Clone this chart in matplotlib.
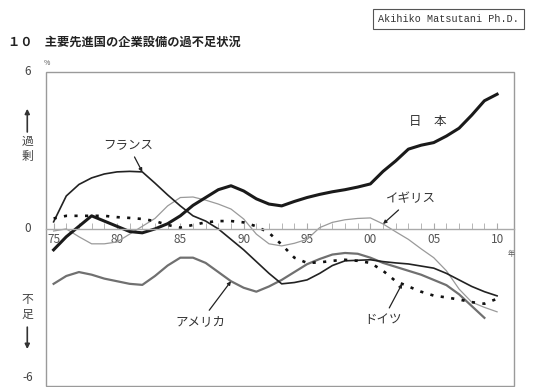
import numpy as np
import matplotlib
matplotlib.use("Agg")
import matplotlib.pyplot as plt
from matplotlib.patches import Rectangle

plt.rcParams["font.family"] = ["Noto Sans CJK JP", "DejaVu Sans"]

years = list(range(1975, 2011))

japan = [-0.8, -0.3, 0.1, 0.5, 0.3, 0.1, -0.1, -0.15, 0.0, 0.2,
         0.5, 0.9, 1.2, 1.5, 1.65, 1.45, 1.15, 0.95, 0.88, 1.05,
         1.2, 1.32, 1.42, 1.5, 1.6, 1.72, 2.2, 2.6, 3.05, 3.2,
         3.3, 3.55, 3.85, 4.35, 4.9, 5.15]
france = [0.27, 1.26, 1.7, 1.95, 2.1, 2.18, 2.2, 2.18, 1.75, 1.3,
          0.88, 0.5, 0.3, 0.0, -0.4, -0.8, -1.25, -1.7, -2.1, -2.05,
          -1.95, -1.7, -1.4, -1.22, -1.2, -1.18, -1.25, -1.3, -1.34, -1.42,
          -1.5, -1.7, -1.95, -2.2, -2.4, -2.56]
usa = [-2.1, -1.8, -1.65, -1.75, -1.9, -2.0, -2.1, -2.14, -1.8, -1.4,
       -1.1, -1.1, -1.3, -1.65, -2.0, -2.25, -2.4, -2.2, -1.95, -1.65,
       -1.35, -1.15, -0.98, -0.92, -0.95, -1.1, -1.3, -1.45, -1.6, -1.75,
       -1.95, -2.15, -2.5, -2.95, -3.4, None]
uk = [-0.08, 0.0, -0.3, -0.57, -0.57, -0.5, -0.2, 0.1, 0.4, 0.88,
      1.2, 1.22, 1.1, 0.95, 0.76, 0.38, -0.2, -0.57, -0.65, -0.55,
      -0.4, 0.05, 0.25, 0.35, 0.4, 0.42, 0.19, -0.11, -0.4, -0.76,
      -1.1, -1.6, -2.3, -2.8, -3.0, -3.17]
germany = [0.4, 0.5, 0.5, 0.5, 0.5, 0.45, 0.42, 0.38, 0.3, 0.15,
           0.05, 0.15, 0.25, 0.3, 0.3, 0.25, 0.1, -0.15, -0.6, -1.1,
           -1.3, -1.28, -1.22, -1.18, -1.22, -1.3, -1.6, -2.0, -2.2, -2.4,
           -2.55, -2.62, -2.7, -2.8, -2.86, -2.67]

usa = np.array([np.nan if v is None else v for v in usa])

fig = plt.figure(figsize=(5.4, 3.87), dpi=100)
ax = fig.add_axes([0.0852, 0.003, 0.867, 0.811])

ax.plot(years, uk, color="#9a9a9a", lw=0.9)
ax.plot(years, usa, color="#707070", lw=1.6)
ax.plot(years, france, color="#222222", lw=1.2)
ax.plot(years, germany, color="#111111", lw=1.9, linestyle=(0, (1.2, 2.8)))
ax.plot(years, japan, color="#1a1a1a", lw=2.2)

ax.set_xlim(1974.4, 2011.35)
ax.set_ylim(-6, 6)

# frame + zero axis with yearly ticks
for s in ["left", "right", "top"]:
    ax.spines[s].set_visible(False)
ax.spines["bottom"].set_position(("data", 0))
ax.spines["bottom"].set_color("#aaaaaa")
ax.spines["bottom"].set_linewidth(1.0)
ax.add_patch(Rectangle((0, 0), 1, 1, transform=ax.transAxes, fill=False,
                       edgecolor="#9a9a9a", lw=1.0, clip_on=False))

ax.set_xticks(range(1975, 2011, 5))
ax.set_xticklabels([f"{y % 100:02d}" for y in range(1975, 2011, 5)])
ax.set_xticks(years, minor=True)
ax.tick_params(axis="x", which="both", direction="in", length=4,
               color="#aaaaaa", labelsize=8.5, labelcolor="#555555", pad=3)
ax.set_yticks([])

# y labels outside
lab = dict(transform=ax.get_yaxis_transform(), ha="center", va="center",
           fontsize=8.5, color="#444444", clip_on=False)
ax.text(-0.04, 6, "6", **lab)
ax.text(-0.04, 0, "0", **lab)
ax.text(-0.04, -5.7, "-6", **lab)
ax.text(-0.005, 6.35, "%", transform=ax.get_yaxis_transform(), ha="left",
        va="center", fontsize=5, color="#555555")
ax.text(1.0, -0.95, "年", transform=ax.get_yaxis_transform(), ha="right",
        va="center", fontsize=5, color="#555555")

ax.annotate("", xy=(-0.04, 4.7), xytext=(-0.04, 3.6),
            xycoords=ax.get_yaxis_transform(), textcoords=ax.get_yaxis_transform(),
            arrowprops=dict(arrowstyle="-|>", color="#333333", lw=1.2,
                            mutation_scale=7))
ax.text(-0.04, 3.35, "過", **lab)
ax.text(-0.04, 2.75, "剰", **lab)
ax.text(-0.04, -2.7, "不", **lab)
ax.text(-0.04, -3.25, "足", **lab)
ax.annotate("", xy=(-0.04, -4.7), xytext=(-0.04, -3.65),
            xycoords=ax.get_yaxis_transform(), textcoords=ax.get_yaxis_transform(),
            arrowprops=dict(arrowstyle="-|>", color="#333333", lw=1.2,
                            mutation_scale=7))

# series labels
arrow = dict(arrowstyle="-|>", color="#222222", lw=0.9, mutation_scale=5,
             shrinkA=2, shrinkB=0)
kw = dict(fontsize=9, color="#333333", ha="center", va="center")
ax.text(2004.5, 4.1, "日　本", **kw)
ax.annotate("フランス", xy=(years[7], france[7]), xytext=(1980.9, 3.2),
            arrowprops=arrow, **kw)
ax.annotate("イギリス", xy=(years[26], uk[26]), xytext=(2003.2, 1.15),
            arrowprops=arrow, **kw)
ax.annotate("アメリカ", xy=(years[14], usa[14]), xytext=(1986.6, -3.55),
            arrowprops=arrow, **kw)
ax.annotate("ドイツ", xy=(years[27] + 0.5, (germany[27] + germany[28]) / 2),
            xytext=(2001.0, -3.47), arrowprops=arrow, **kw)

fig.text(0.015, 0.892, "１０　主要先進国の企業設備の過不足状況", fontsize=8.8,
         color="#222222", ha="left", va="center", fontweight="bold")
fig.text(0.700, 0.95, "Akihiko Matsutani Ph.D.", fontsize=7.3,
         family="Liberation Mono", color="#333333", ha="left", va="center",
         bbox=dict(boxstyle="square,pad=0.5", fc="white", ec="#555555", lw=0.8))

fig.savefig("out.png", dpi=100)
